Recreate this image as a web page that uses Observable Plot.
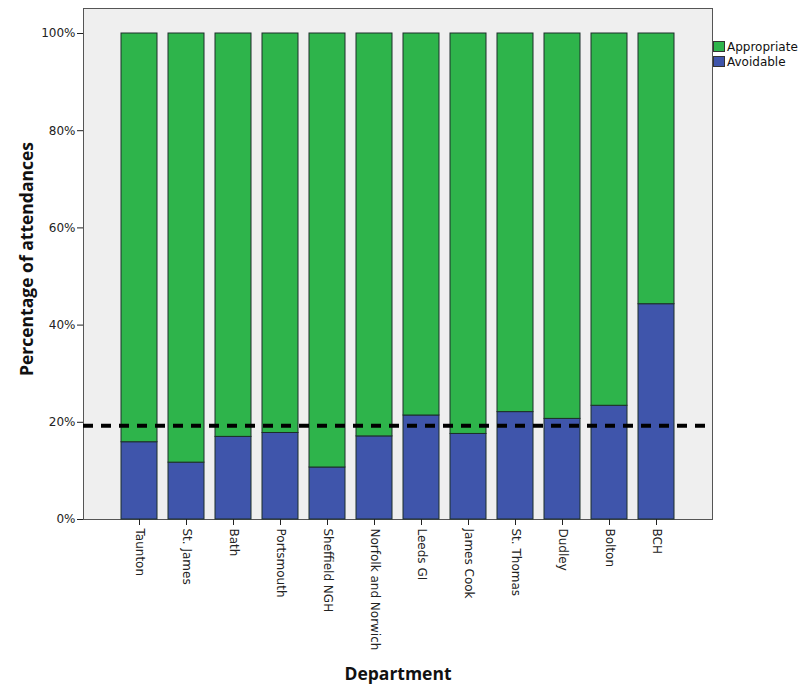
<!DOCTYPE html>
<html>
<head>
<meta charset="utf-8">
<script src="https://cdn.jsdelivr.net/npm/d3@7"></script>
<script src="https://cdn.jsdelivr.net/npm/@observablehq/plot@0.6"></script>
<style>
  html, body { margin: 0; padding: 0; background: #fff; }
  #wrap { position: relative; width: 806px; height: 689px; }
  #legend { position: absolute; left: 713px; top: 39px; font-family: "DejaVu Sans", sans-serif; font-size: 12px; color: #111; }
  #legend .row { display: flex; align-items: center; height: 15px; }
  #legend .sw { width: 12px; height: 11px; border: 1px solid #333; margin-right: 2px; box-sizing: border-box; }
</style>
</head>
<body>
<div id="wrap"></div>
<script>
const departments = ["Taunton", "St. James", "Bath", "Portsmouth", "Sheffield NGH", "Norfolk and Norwich", "Leeds GI", "James Cook", "St. Thomas", "Dudley", "Bolton", "BCH"];
const avoidable   = [15.9, 11.7, 17.0, 17.8, 10.7, 17.1, 21.4, 17.6, 22.1, 20.7, 23.4, 44.3];
const appropriate = [84.1, 88.3, 83.0, 82.2, 89.3, 82.9, 78.6, 82.4, 77.9, 79.3, 76.6, 55.7];
const categories = ["Avoidable", "Appropriate"];
const colors = ["#3f55ab", "#2eb44b"];
const threshold = 19.3;
const yTicks = [0, 20, 40, 60, 80, 100];

const data = [];
departments.forEach((d, i) => {
  data.push({dept: d, cat: "Avoidable", value: avoidable[i]});
  data.push({dept: d, cat: "Appropriate", value: appropriate[i]});
});

const chart = Plot.plot({
  width: 806,
  height: 689,
  marginLeft: 83,
  marginRight: 94,
  marginTop: 8,
  marginBottom: 170,
  style: {fontFamily: "DejaVu Sans, sans-serif", fontSize: "12px", color: "#222"},
  x: {domain: departments, insetLeft: 25.6, insetRight: 25.6, padding: 0.24, label: "Department", tickRotate: 90, tickSize: 6, tickPadding: 3},
  y: {domain: [0, 100], insetTop: 25, label: "Percentage of attendances", ticks: yTicks, tickFormat: d => d + "%", tickSize: 6, tickPadding: 2},
  color: {domain: categories, range: colors},
  marks: [
    Plot.frame({fill: "#efefef", stroke: "#555"}),
    Plot.barY(data, Plot.stackY({x: "dept", y: "value", fill: "cat", stroke: "#1d2e2a", strokeWidth: 1, order: categories})),
    Plot.ruleY([threshold], {stroke: "#000", strokeWidth: 4, strokeDasharray: "10,8"}),
    Plot.axisX({label: "Department", labelAnchor: "center", labelOffset: 160, tickRotate: 90, tickSize: 6, tickPadding: 3}),
    Plot.axisY({label: "Percentage of attendances", labelAnchor: "center", labelOffset: 63, ticks: yTicks, tickFormat: d => d + "%", tickSize: 6, tickPadding: 2})
  ]
});

const wrap = document.getElementById("wrap");
wrap.appendChild(chart);

d3.select(chart).selectAll('[aria-label="x-axis label"] text, [aria-label="y-axis label"] text')
  .attr("font-weight", "bold").attr("font-size", 17.5).attr("fill", "#111")
  .attr("font-family", "Open Sans, sans-serif")
  .text(function() { return this.textContent.replace(/[\s→↑↓←]+$/,"").replace(/^[↑→]\s*/,""); });
d3.select(chart).selectAll('[aria-label="y-axis label"] text').attr("dx", 5);

const legend = document.createElement("div");
legend.id = "legend";
const legendItems = ["Appropriate", "Avoidable"];
legendItems.forEach(name => {
  const row = document.createElement("div");
  row.className = "row";
  const sw = document.createElement("div");
  sw.className = "sw";
  sw.style.background = colors[categories.indexOf(name)];
  const t = document.createElement("span");
  t.textContent = name;
  row.appendChild(sw); row.appendChild(t);
  legend.appendChild(row);
});
wrap.appendChild(legend);
</script>
</body>
</html>
